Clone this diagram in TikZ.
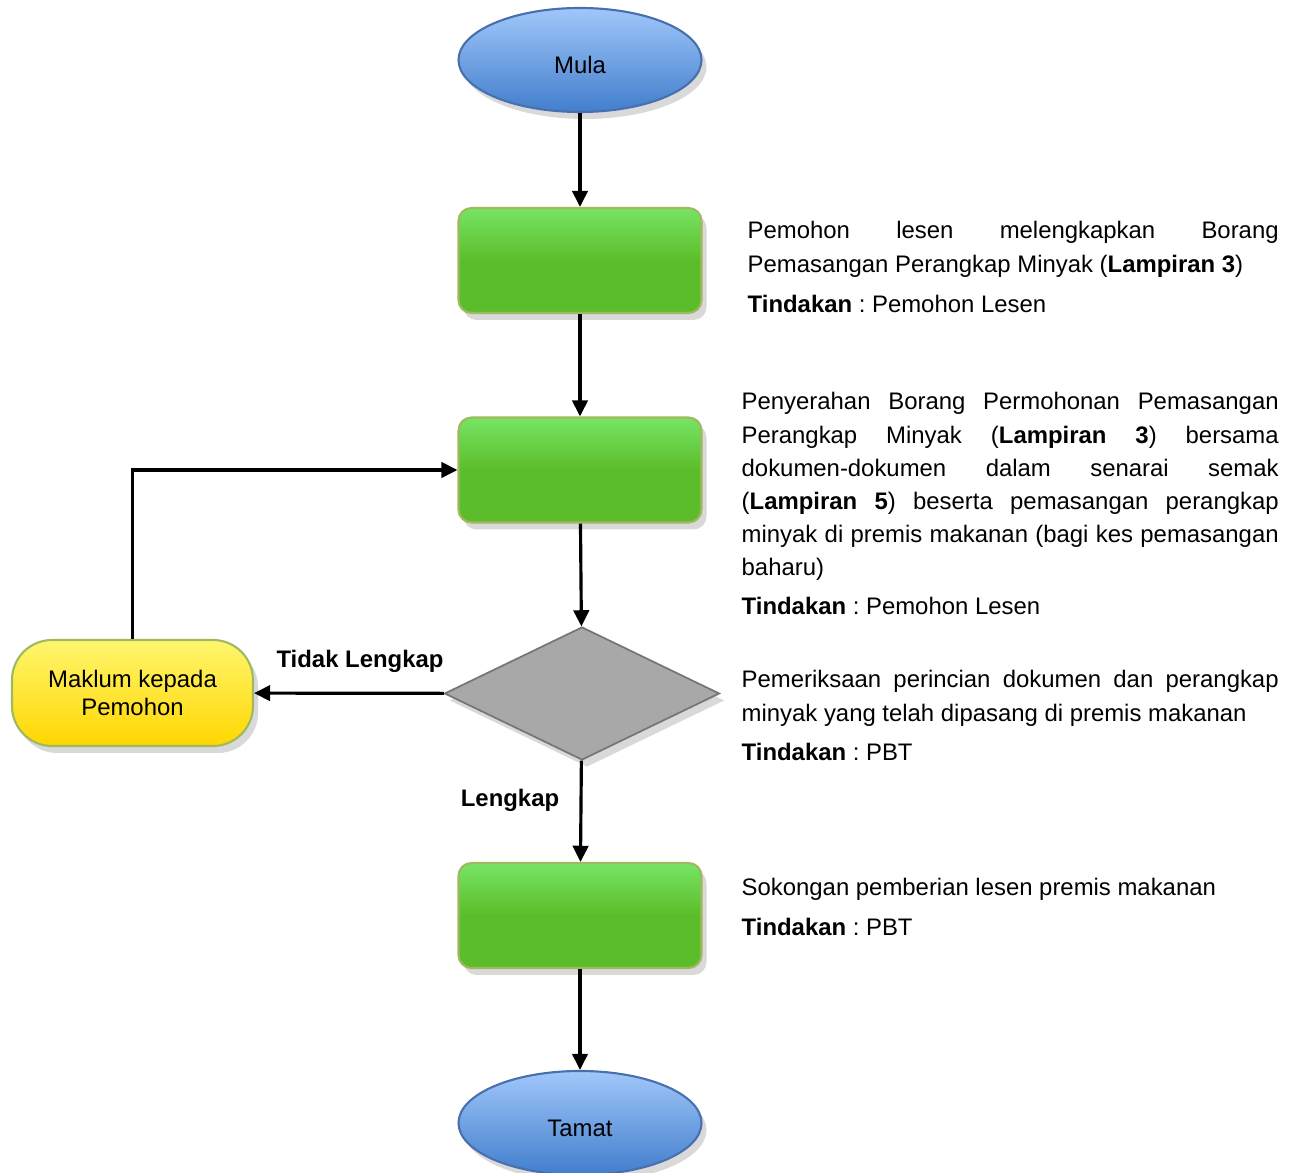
\documentclass[tikz,border=0pt]{standalone}
\usepackage{fontspec}
\setmainfont{Liberation Sans}
\usepackage{tikz}
\usetikzlibrary{shapes.geometric,arrows.meta,shadows}
\hyphenpenalty=10000
\tolerance=10000
\frenchspacing
\definecolor{blueTop}{RGB}{160,199,250}
\definecolor{blueBot}{RGB}{66,126,204}
\definecolor{blueLine}{RGB}{72,112,172}
\definecolor{greenTop}{RGB}{118,228,100}
\definecolor{greenBot}{RGB}{92,189,42}
\definecolor{greenLine}{RGB}{160,184,96}
\definecolor{greyFill}{RGB}{168,168,168}
\definecolor{greyLine}{RGB}{118,118,118}
\definecolor{yellowTop}{RGB}{255,246,110}
\definecolor{yellowBot}{RGB}{255,214,0}
\tikzstyle{shade} = [drop shadow={shadow xshift=0.05cm, shadow yshift=-0.07cm, opacity=0.3}]
\tikzstyle{terminal} = [ellipse, draw=blueLine, line width=0.6pt, top color=blueTop, bottom color=blueBot, minimum width=2.43cm, minimum height=1.04cm, inner sep=0pt, text height=7.6pt, text depth=0pt, shade]
\tikzstyle{process} = [rectangle, rounded corners=0.13cm, draw=greenLine, line width=0.6pt, top color=greenTop, bottom color=greenBot, middle color=greenBot, minimum width=2.43cm, minimum height=1.05cm, shade]
\tikzstyle{decision} = [diamond, draw=greyLine, line width=0.5pt, fill=greyFill, minimum width=2.75cm, minimum height=1.33cm, inner sep=0pt, shade]
\tikzstyle{notify} = [rectangle, rounded corners=0.4cm, draw=greenLine, line width=0.6pt, top color=yellowTop, bottom color=yellowBot, minimum width=2.41cm, minimum height=1.06cm, align=center, font=\fontsize{6.8pt}{7.7pt}\selectfont, shade]
\tikzstyle{line} = [draw, line width=0.9pt, -{Triangle[length=4.6pt,width=4.4pt]}]
\tikzstyle{desc} = [anchor=base west, inner sep=0pt, text width=5.37cm, align=justify]
\tikzstyle{lbl} = [font=\fontsize{6.8pt}{9.4pt}\selectfont\bfseries]

\begin{document}
\begin{tikzpicture}[font=\fontsize{6.8pt}{9.4pt}\selectfont]
\useasboundingbox (0,0) rectangle (12.98,-11.73);
% flow
\node [terminal] (mula) at (5.8,-0.60) {Mula};
\node [process] (b1) at (5.8,-2.605) {};
\node [process] (b2) at (5.8,-4.70) {};
\node [decision] (dec) at (5.82,-6.935) {};
\node [process] (b3) at (5.8,-9.155) {};
\node [terminal] (tamat) at (5.8,-11.23) {Tamat};
\node [notify] (mak) at (1.325,-6.93) {Maklum kepada\\Pemohon};

\draw [line] (mula) -- (b1);
\draw [line] (b1) -- (b2);
\draw [line] (b2) -- (dec);
\draw [line] (dec) -- (b3);
\draw [line] (b3) -- (tamat);
\draw [line] (dec) -- (mak);
\draw [line] (mak.north) |- (b2.west);

\node [lbl] (tl) at (3.60,-6.61) {Tidak Lengkap};
\node [lbl] (lk) at (5.10,-8.00) {Lengkap};

% keterangan
\node [desc, text width=5.31cm] (d1) at (7.47,-2.39) {Pemohon lesen melengkapkan Borang\linebreak Pemasangan Perangkap Minyak (\textbf{Lampiran~3})};
\node [desc] (t1) at (7.47,-3.13) {\textbf{Tindakan} : Pemohon Lesen};
\node [desc] (d2) at (7.41,-4.10) {Penyerahan Borang Permohonan Pemasangan\linebreak Perangkap Minyak (\textbf{Lampiran 3}) bersama\linebreak dokumen-dokumen dalam senarai semak\linebreak (\textbf{Lampiran 5}) beserta pemasangan perangkap\linebreak minyak di premis makanan (bagi kes pemasangan\linebreak baharu)};
\node [desc] (t2) at (7.41,-6.15) {\textbf{Tindakan} : Pemohon Lesen};
\node [desc] (d3) at (7.41,-6.88) {Pemeriksaan perincian dokumen dan perangkap\linebreak minyak yang telah dipasang di premis makanan};
\node [desc] (t3) at (7.41,-7.61) {\textbf{Tindakan} : PBT};
\node [desc] (d4) at (7.41,-8.96) {Sokongan pemberian lesen premis makanan};
\node [desc] (t4) at (7.41,-9.36) {\textbf{Tindakan} : PBT};
\end{tikzpicture}
\end{document}
